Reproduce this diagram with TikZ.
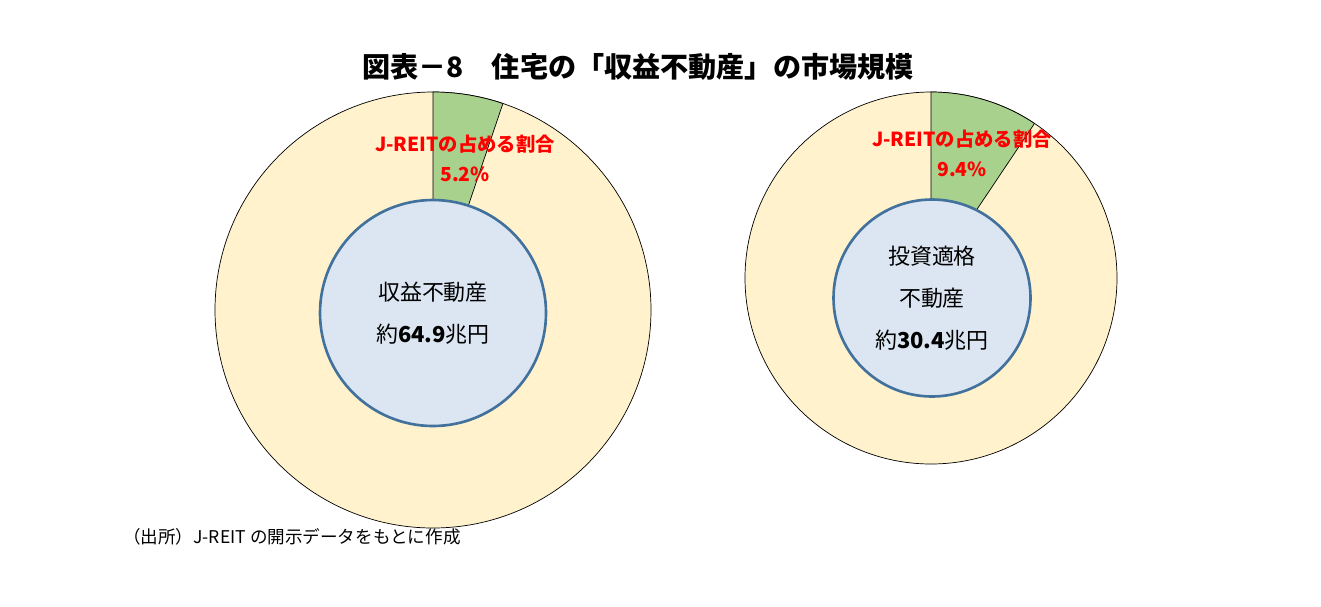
\documentclass[tikz,border=0pt]{standalone}
\usepackage{fontspec}
\setmainfont{Noto Sans CJK JP}
\definecolor{ringfill}{HTML}{FFF2CC}
\definecolor{sharefill}{HTML}{A9D18E}
\definecolor{corefill}{HTML}{DCE6F2}
\definecolor{coreline}{HTML}{41719C}
\begin{document}
\begin{tikzpicture}
  [
  x=0.02cm, y=-0.02cm,
  ring/.style={draw=black, line width=0.4pt, fill=ringfill},
  share/.style={draw=black, line width=0.4pt, fill=sharefill},
  core/.style={circle, draw=coreline, line width=1.5pt, fill=corefill, inner sep=0pt},
  sharelabel/.style={text=red, font=\fontsize{11}{17}\selectfont\bfseries, align=center},
  corelabel/.style={font=\fontsize{12.5}{24}\selectfont, align=center}
  ]
  \useasboundingbox (0,0) rectangle (1321,606);
  % title
  \node (title) at (638,67) {\fontsize{16}{18}\selectfont\bfseries 図表－8\quad 住宅の「収益不動産」の市場規模};
  % left chart
  \coordinate (cL) at (433,310);
  \fill[ring] (cL) circle[radius=218];
  \filldraw[share] (cL) -- ++(270:218) arc[start angle=270, end angle=270+18.7, radius=218] -- cycle;
  \node (coreL) at (433,313) [core, minimum size=226*0.02cm] {};
  \node (labelL) at (465,158) [sharelabel] {J-REITの占める割合\\5.2\%};
  \node (textL) at (coreL) [corelabel] {収益不動産\\約\textbf{64.9}兆円};
  % right chart
  \coordinate (cR) at (931,278);
  \fill[ring] (cR) circle[radius=186];
  \filldraw[share] (cR) -- ++(270:186) arc[start angle=270, end angle=270+33.8, radius=186] -- cycle;
  \node (coreR) at (932,298) [core, minimum size=197*0.02cm] {};
  \node (labelR) at (962,153) [sharelabel] {J-REITの占める割合\\9.4\%};
  \node (textR) at (coreR) [corelabel] {投資適格\\不動産\\約\textbf{30.4}兆円};
  % source
  \node (source) at (117,537) [anchor=west, font=\fontsize{10}{12}\selectfont] {（出所）J-REIT の開示データをもとに作成};
\end{tikzpicture}
\end{document}
